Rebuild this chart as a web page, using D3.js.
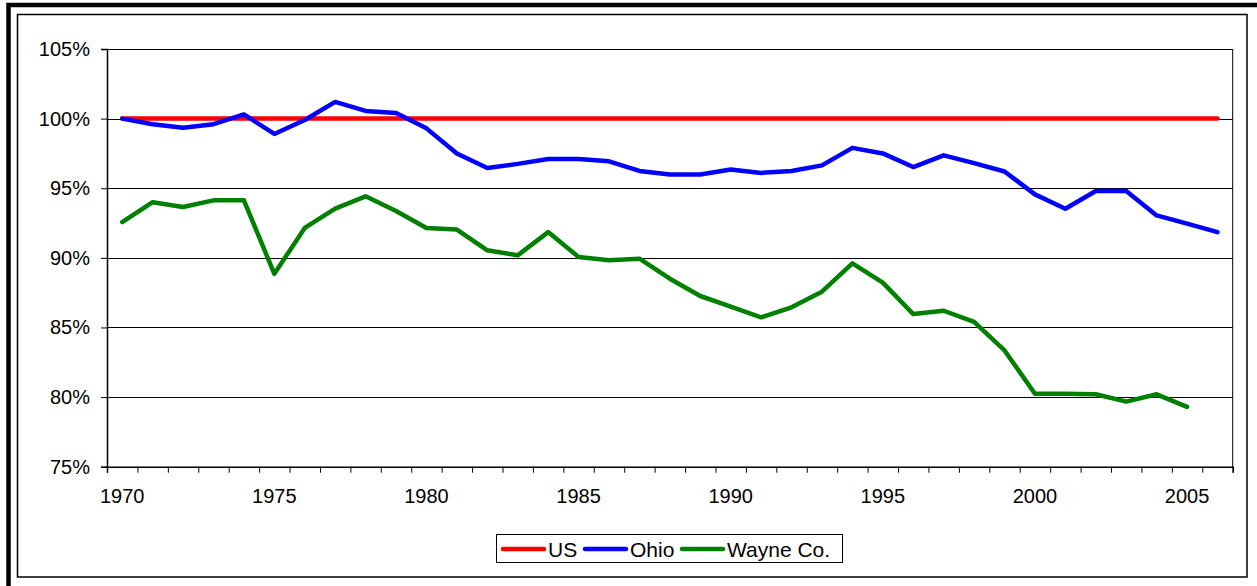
<!DOCTYPE html>
<meta charset="utf-8">
<script src="https://cdn.jsdelivr.net/npm/d3@7"></script>
<style>
  body { margin: 0; background: #fff; }
  text { font-family: "Liberation Sans", Arial, sans-serif; }
</style>
<body>
<script>

var width = 1257
var height = 586

// years 1970..2006
var years = d3.range(1970, 2007)
var usValues = years.map(function() { return 100 })
var ohioValues = [100.0, 99.6, 99.35, 99.6, 100.3, 98.9, 99.9, 101.2, 100.55, 100.4,
                  99.3, 97.5, 96.45, 96.75, 97.1, 97.1, 96.93, 96.24, 95.98, 95.98,
                  96.34, 96.1, 96.24, 96.64, 97.9, 97.5, 96.52, 97.36, 96.8, 96.2,
                  94.56, 93.53, 94.8, 94.8, 93.05, 92.46, 91.85]
var wayneValues = [92.57, 94.0, 93.65, 94.13, 94.13, 88.85, 92.15, 93.53, 94.42, 93.36,
                   92.14, 92.03, 90.54, 90.18, 91.85, 90.06, 89.82, 89.94, 88.5, 87.26,
                   86.5, 85.73, 86.45, 87.57, 89.6, 88.22, 85.96, 86.2, 85.4, 83.35,
                   80.24, 80.24, 80.2, 79.67, 80.2, 79.3]
var yTicks = [75, 80, 85, 90, 95, 100, 105]
var yearLabels = [1970, 1975, 1980, 1985, 1990, 1995, 2000, 2005]

var series = [
  { name: "US", color: "#ff0000", values: usValues },
  { name: "Ohio", color: "#0000ff", values: ohioValues },
  { name: "Wayne Co.", color: "#008000", values: wayneValues }
]

var plotLeft = 107, plotRight = 1232.7, plotTop = 49, plotBottom = 466.7

var x = d3.scaleBand().domain(years).range([plotLeft, plotRight]).padding(0)
var xEdge = d3.scaleLinear().domain([0, years.length]).range([plotLeft, plotRight])
var y = d3.scaleLinear().domain([75, 105]).range([plotBottom, plotTop])

var svg = d3.select("body").append("svg")
            .attr("width", width)
            .attr("height", height)

// outer frame
svg.append("rect").attr("x", 8.5).attr("y", 5).attr("width", 1300).attr("height", 640)
   .attr("fill", "none").attr("stroke", "#000").attr("stroke-width", 4.5)
// chart area border
svg.append("rect").attr("x", 17.5).attr("y", 14.5).attr("width", 1229.5).attr("height", 562.5)
   .attr("fill", "none").attr("stroke", "#000").attr("stroke-width", 1.5)

// gridlines
svg.append("g").selectAll("line")
   .data(yTicks.filter(function(d) { return d > 75 }))
   .join("line")
   .attr("x1", plotLeft).attr("x2", plotRight)
   .attr("y1", function(d) { return Math.round(y(d)) + 0.5 })
   .attr("y2", function(d) { return Math.round(y(d)) + 0.5 })
   .attr("stroke", "#000").attr("stroke-width", 1)

// plot right border
svg.append("line").attr("x1", plotRight).attr("x2", plotRight).attr("y1", plotTop).attr("y2", plotBottom)
   .attr("stroke", "#000").attr("stroke-width", 1)

// y axis
var yAxis = svg.append("g")
    .attr("transform", "translate(" + plotLeft + ",0)")
    .call(d3.axisLeft(y).tickValues(yTicks).tickSize(6).tickPadding(11)
            .tickFormat(function(d) { return d + "%" }))
yAxis.select(".domain").attr("stroke", "#000").attr("stroke-width", 1.5)
yAxis.selectAll(".tick line").attr("stroke", "#000")
yAxis.selectAll("text").attr("font-size", 20).attr("fill", "#000")
     .attr("font-family", "Liberation Sans, Arial, sans-serif")

// x axis: tick marks between categories
var xTickAxis = svg.append("g")
    .attr("transform", "translate(0," + plotBottom + ")")
    .call(d3.axisBottom(xEdge).tickValues(d3.range(0, years.length + 1)).tickSize(6).tickFormat(""))
xTickAxis.select(".domain").attr("stroke", "#000").attr("stroke-width", 1.5)
xTickAxis.selectAll(".tick line").attr("stroke", "#000")

// x labels
var xLabelAxis = svg.append("g")
    .attr("transform", "translate(0," + plotBottom + ")")
    .call(d3.axisBottom(x).tickValues(yearLabels).tickSize(0).tickPadding(22))
xLabelAxis.select(".domain").remove()
xLabelAxis.selectAll("text").attr("font-size", 20).attr("fill", "#000")
     .attr("font-family", "Liberation Sans, Arial, sans-serif")

// lines
var line = d3.line()
    .x(function(d, i) { return x(years[i]) + x.bandwidth() / 2 })
    .y(function(d) { return y(d) })

svg.append("g").selectAll("path")
   .data(series)
   .join("path")
   .attr("d", function(s) { return line(s.values) })
   .attr("fill", "none")
   .attr("stroke", function(s) { return s.color })
   .attr("stroke-width", 4.5)
   .attr("stroke-linejoin", "round")
   .attr("stroke-linecap", "round")

// legend
var legend = svg.append("g")
legend.append("rect").attr("x", 496.5).attr("y", 534.5).attr("width", 346).attr("height", 28)
      .attr("fill", "#fff").attr("stroke", "#000").attr("stroke-width", 1)
var legendX = [503, 585, 682]
var item = legend.selectAll("g.item").data(series).join("g")
    .attr("class", "item")
    .attr("transform", function(d, i) { return "translate(" + legendX[i] + ",549)" })
item.append("line").attr("x1", 0).attr("x2", 41).attr("y1", 0).attr("y2", 0)
    .attr("stroke", function(d) { return d.color }).attr("stroke-width", 4.5)
    .attr("stroke-linecap", "round")
item.append("text").attr("x", 45).attr("y", 8).attr("font-size", 21).attr("fill", "#000")
    .text(function(d) { return d.name })

</script>
</body>
